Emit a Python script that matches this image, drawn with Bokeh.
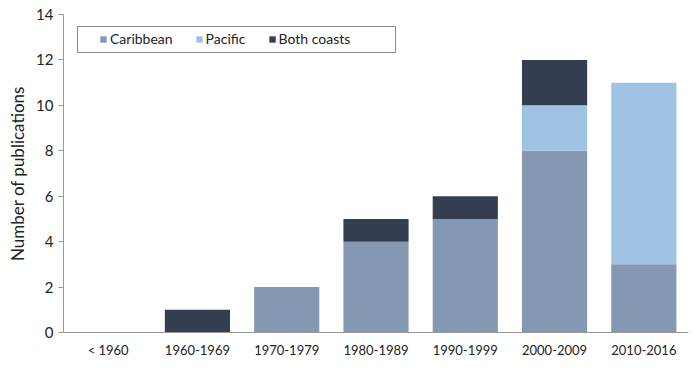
from bokeh.plotting import figure
from bokeh.models import ColumnDataSource, Range1d, FactorRange, FixedTicker, BoxAnnotation
from bokeh.embed import file_html
from bokeh.resources import INLINE

categories = ["< 1960", "1960-1969", "1970-1979", "1980-1989", "1990-1999", "2000-2009", "2010-2016"]
caribbean = [0, 0, 2, 4, 5, 8, 3]
pacific = [0, 0, 0, 0, 0, 2, 8]
both_coasts = [0, 1, 0, 1, 1, 2, 0]
series = ["Caribbean", "Pacific", "Both coasts"]
colors = ["#8499b1", "#9fc3e3", "#333f50"]

source = ColumnDataSource(data=dict(cat=categories, Caribbean=caribbean, Pacific=pacific, **{"Both coasts": both_coasts}))

FONT = "Lato"
p = figure(width=692, height=365, x_range=FactorRange(*categories), y_range=Range1d(0, 14),
           output_backend="svg", toolbar_location=None,
           min_border_left=63, min_border_right=4, min_border_top=14, min_border_bottom=33)
p.x_range.range_padding = 0
p.x_range.factor_padding = 0

p.vbar_stack(series, x="cat", width=0.73, source=source, color=colors, line_color=None,
             legend_label=series)

p.xgrid.visible = False
p.ygrid.visible = False
p.outline_line_color = None

p.yaxis.ticker = FixedTicker(ticks=list(range(0, 15, 2)))
p.yaxis.axis_label = "Number of publications"
p.yaxis.axis_label_text_font = FONT
p.yaxis.axis_label_text_font_style = "normal"
p.yaxis.axis_label_text_font_size = "17px"
p.yaxis.axis_label_text_color = "#222222"
p.yaxis.major_label_text_font = FONT
p.yaxis.major_label_text_font_size = "15px"
p.yaxis.major_label_text_color = "#222222"
p.yaxis.minor_tick_line_color = None
p.yaxis.major_tick_in = 0
p.yaxis.major_tick_out = 5
p.yaxis.axis_line_color = "#999999"
p.yaxis.major_tick_line_color = "#999999"

p.xaxis.major_label_text_font = FONT
p.xaxis.major_label_text_font_size = "13px"
p.xaxis.major_label_text_color = "#222222"
p.xaxis.major_tick_line_color = None
p.xaxis.major_tick_in = 0
p.xaxis.major_tick_out = 0
p.xaxis.axis_line_color = "#999999"
p.xaxis.major_label_standoff = 9

# legend frame (screen units relative to the plot frame, y measured from its bottom)
box = BoxAnnotation(left=14, right=332, top=306, bottom=280,
                    left_units="screen", right_units="screen", top_units="screen", bottom_units="screen",
                    fill_color=None, line_color="#888888", line_width=1, line_alpha=1)
p.add_layout(box)

lg = p.legend[0]
lg.orientation = "horizontal"
lg.location = (36, 285)
lg.label_text_font = FONT
lg.label_text_font_size = "14px"
lg.label_text_color = "#222222"
lg.glyph_width = 8
lg.glyph_height = 8
lg.label_standoff = 3
lg.spacing = 22
lg.padding = 0
lg.margin = 0
lg.border_line_color = None
lg.background_fill_alpha = 0
lg.label_height = 16

open("out.html", "w").write(file_html(p, INLINE))
